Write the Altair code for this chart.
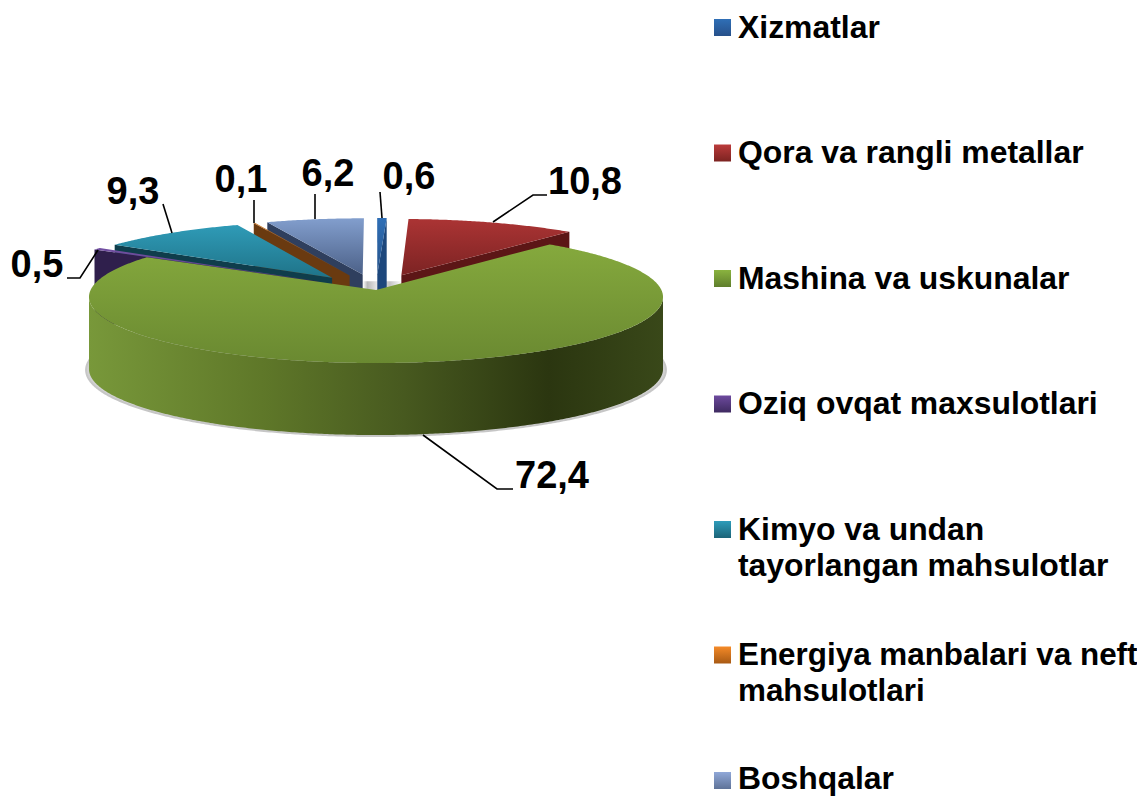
import math
import altair as alt
import pandas as pd

W, H = 1137, 796
# ---- data
categories = ["Xizmatlar", "Qora va rangli metallar", "Mashina va uskunalar",
              "Oziq ovqat maxsulotlari", "Kimyo va undan\ntayorlangan mahsulotlar",
              "Energiya manbalari va neft\nmahsulotlari", "Boshqalar"]
legend_font = [31.9, 31.9, 31.9, 31.9, 31.9, 31.4, 31.9]
legend_lift = [0, 0, 0, 0, 0, 0, 1.5]
values = [0.6, 10.8, 72.4, 0.5, 9.3, 0.1, 6.2]
value_labels = ["0,6", "10,8", "72,4", "0,5", "9,3", "0,1", "6,2"]
top_colors = [["#2f6fb6", "#25528a"], ["#ab3434", "#7c2323"], ["#85a93d", "#6a8931"],
              ["#7350a3", "#553a80"], ["#2f9bb7", "#1f7388"], ["#c8701c", "#8a4c14"],
              ["#829ecd", "#4c6188"]]
cut_colors = ["#1d477c", "#5c1616", None, "#2f1f4c", "#0f3d4b", "#6a3a10", "#2f3f5e"]
swatch_colors = [["#2f6fb6", "#27508a"], ["#bb3b3b", "#7c2321"], ["#8ab33f", "#5f7e2c"],
                 ["#6d4a9e", "#3e2a60"], ["#2e9cba", "#1c6478"], ["#f58a28", "#a85a14"],
                 ["#90a8d8", "#5f7398"]]
label_x = [409, 585, 552, 37, 133, 241, 328]
label_y = [178, 183, 477, 266, 193, 181, 175]
leaders = [
    [(380, 192), (382, 218)],
    [(547, 195), (533, 195), (493, 222)],
    [(423, 435), (497, 489), (513, 489)],
    [(67, 278), (80, 278), (98, 250)],
    [(163, 204), (172, 233)],
    [(254, 200), (254, 223)],
    [(315, 194), (315, 219)],
]
wall_stops = [(0, "#78983a"), (0.3, "#5f7829"), (0.55, "#47591f"), (0.8, "#2b3610"), (1, "#394819")]
hub_stops = [(0, "#ffffff"), (0.12, "#b9b9b9"), (0.4, "#eeeeee"), (0.7, "#c4c4c4"), (1, "#ffffff")]

# ---- pie geometry: a perspective view of a circle
CX, CY, RX, RY, PERSP, DEPTH, EXPLODE = 376, 290, 285.4, 65.3, 0.106, 72, 0.247
TOTAL = sum(values)


def project(u, v):
    w = 1 + PERSP * v
    return (CX + RX * u / w, CY - RY * v / w)


def arc(a0, a1, ou=0.0, ov=0.0):
    n = max(2, int(abs(a1 - a0) * 2))
    pts = []
    for i in range(n + 1):
        t = math.radians(a0 + (a1 - a0) * i / n)
        pts.append(project(math.sin(t) + ou, math.cos(t) + ov))
    return pts


def feature(points):
    ring = [[round(x, 2), round(y, 2)] for x, y in points]
    ring.append(ring[0])
    return {"type": "Feature", "properties": {},
            "geometry": {"type": "Polygon", "coordinates": [ring]}}


def grad(stops, horizontal=False):
    return alt.LinearGradient(
        gradient="linear",
        stops=[alt.GradientStop(offset=o, color=c) for o, c in stops],
        x1=0, y1=0, x2=1 if horizontal else 0, y2=0 if horizontal else 1)


def vgrad(pair):
    return grad([(0, pair[0]), (1, pair[1])])


def shape(points, fill, **kw):
    kw.setdefault("strokeWidth", 0)
    return alt.Chart(alt.Data(values=[feature(points)])).mark_geoshape(fill=fill, **kw).project(
        type="identity", scale=1, translate=[-8, -8])


# angles, clockwise from 12 o'clock
starts, ends, c = [], [], 0.0
for v in values:
    starts.append(c / TOTAL * 360)
    c += v
    ends.append(c / TOTAL * 360)

layers = []

# ground shadow
full = arc(0, 360)
shadow = [(x + (x - CX) * 0.010, y + DEPTH + 1) for x, y in full]
layers.append(shape(shadow, "#c4c4c4", stroke="#b4b4b4", strokeWidth=2, opacity=0.75))

# grey centre seen through the gaps
hx0, hy0 = project(-0.047, 0.2)
hx1, hy1 = project(0.09, 0.0)
layers.append(shape([(hx0, hy0 + 4), (hx1, hy0 + 4), (hx1, hy1 + 1), (hx0, hy1 + 1)], grad(hub_stops, True)))

# exploded slices, back to front
for i in [6, 5, 4, 3, 0, 1]:
    mid = math.radians((starts[i] + ends[i]) / 2)
    ou, ov = EXPLODE * math.sin(mid), EXPLODE * math.cos(mid)
    apex = project(ou, ov)
    rim = arc(starts[i], ends[i], ou, ov)
    edge = rim[-1] if i in (0, 1) else rim[0]
    cut = [apex, edge, (edge[0], edge[1] + DEPTH), (apex[0], apex[1] + DEPTH)]
    layers.append(shape(cut, cut_colors[i]))
    layers.append(shape([apex] + rim, vgrad(top_colors[i])))

# main slice: side wall, then top
g = 2
rim = arc(starts[g], ends[g])
i_right = max(range(len(rim)), key=lambda k: rim[k][0])
i_left = min(range(len(rim)), key=lambda k: rim[k][0])
front = rim[i_right:i_left + 1]
wall = front + [(x, y + DEPTH) for x, y in reversed(front)]
layers.append(shape(wall, grad(wall_stops, True)))
layers.append(shape([project(0, 0)] + rim, vgrad(top_colors[g])))

# scales shared by text, leaders and legend
xs = alt.Scale(domain=[8, W], range=[0, W - 8])
ys = alt.Scale(domain=[8, H], range=[0, H - 8])
X = alt.X("x:Q", scale=xs, axis=None)
Y = alt.Y("y:Q", scale=ys, axis=None)

# leader lines
rows = [{"id": n, "i": k, "x": p[0], "y": p[1]} for n, line in enumerate(leaders) for k, p in enumerate(line)]
layers.append(alt.Chart(pd.DataFrame(rows)).mark_line(color="#000000", strokeWidth=1.6).encode(
    x=X, y=Y, detail="id:N", order="i:Q"))

# value labels
layers.append(alt.Chart(pd.DataFrame({"x": label_x, "y": label_y, "t": value_labels})).mark_text(
    font="Liberation Sans", fontWeight="bold", fontSize=38, color="#000000",
    align="center", baseline="middle").encode(x=X, y=Y, text="t:N"))

# legend
LEG_Y0, LEG_STEP = 27.5, 125.5
leg = pd.DataFrame({"x": [738] * 7,
                    "y": [LEG_Y0 + LEG_STEP * i + 10 - legend_lift[i] for i in range(7)],
                    "t": categories, "s": legend_font})
layers.append(alt.Chart(leg).mark_text(
    font="Liberation Sans", fontWeight="bold", color="#000000",
    align="left", baseline="alphabetic", lineBreak="\n", lineHeight=36).encode(
    x=X, y=Y, text="t:N", size=alt.Size("s:Q", scale=None)))
for i, pair in enumerate(swatch_colors):
    d = pd.DataFrame({"x": [722.5], "y": [LEG_Y0 + LEG_STEP * i]})
    layers.append(alt.Chart(d).mark_square(size=289, fill=vgrad(pair), opacity=1, strokeWidth=0).encode(x=X, y=Y))

chart = alt.layer(*layers).properties(
    width=W - 8, height=H - 8, padding=0,
    autosize=alt.AutoSizeParams(type="none"),
).configure_view(stroke=None)

chart.save("out.html", embed_options={"renderer": "svg", "actions": False})
